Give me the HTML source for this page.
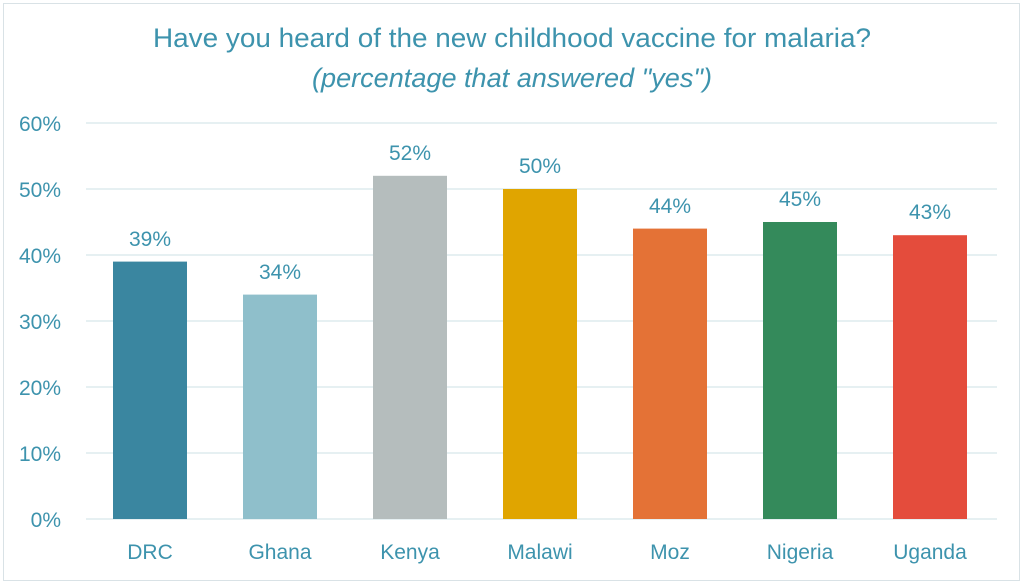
<!DOCTYPE html>
<html><head><style>
body{margin:0;background:#fff;}
svg{display:block;font-family:"Liberation Sans",sans-serif;}
</style></head><body>
<svg width="1024" height="585" xmlns="http://www.w3.org/2000/svg">
<rect x="3.5" y="3.5" width="1016" height="577" fill="#fff" stroke="#d9e2e6" stroke-width="1"/>
<g fill="#3d93ad" text-anchor="middle">
<text x="512" y="47" font-size="27" textLength="718" lengthAdjust="spacingAndGlyphs">Have you heard of the new childhood vaccine for malaria?</text>
<text x="512" y="87" font-size="27" font-style="italic" textLength="400" lengthAdjust="spacingAndGlyphs">(percentage that answered "yes")</text>
</g>
<g stroke="#d6e6ea" stroke-width="1.3">
<line x1="86" x2="997" y1="123" y2="123"/><line x1="86" x2="997" y1="189" y2="189"/>
<line x1="86" x2="997" y1="255" y2="255"/><line x1="86" x2="997" y1="321" y2="321"/>
<line x1="86" x2="997" y1="387" y2="387"/><line x1="86" x2="997" y1="453" y2="453"/>
<line x1="86" x2="997" y1="519" y2="519"/>
</g>
<g fill="#3d93ad" font-size="21" text-anchor="end">
<text x="61" y="131">60%</text><text x="61" y="197">50%</text><text x="61" y="263">40%</text>
<text x="61" y="329">30%</text><text x="61" y="395">20%</text><text x="61" y="461">10%</text>
<text x="61" y="527">0%</text>
</g>
<rect x="113" y="261.6" width="74" height="257.4" fill="#3a86a0"/>
<rect x="243" y="294.6" width="74" height="224.4" fill="#8fbfcb"/>
<rect x="373" y="175.8" width="74" height="343.2" fill="#b5bdbd"/>
<rect x="503" y="189" width="74" height="330" fill="#e0a500"/>
<rect x="633" y="228.6" width="74" height="290.4" fill="#e47236"/>
<rect x="763" y="222" width="74" height="297" fill="#348a5b"/>
<rect x="893" y="235.2" width="74" height="283.8" fill="#e44c3c"/>
<g fill="#3d93ad" font-size="21" text-anchor="middle">
<text x="150" y="246">39%</text><text x="280" y="279">34%</text><text x="410" y="160">52%</text>
<text x="540" y="173">50%</text><text x="670" y="213">44%</text><text x="800" y="206">45%</text>
<text x="930" y="219">43%</text>
<text x="150" y="559">DRC</text><text x="280" y="559">Ghana</text><text x="410" y="559">Kenya</text>
<text x="540" y="559">Malawi</text><text x="670" y="559">Moz</text><text x="800" y="559">Nigeria</text>
<text x="930" y="559">Uganda</text>
</g>
</svg>
</body></html>
